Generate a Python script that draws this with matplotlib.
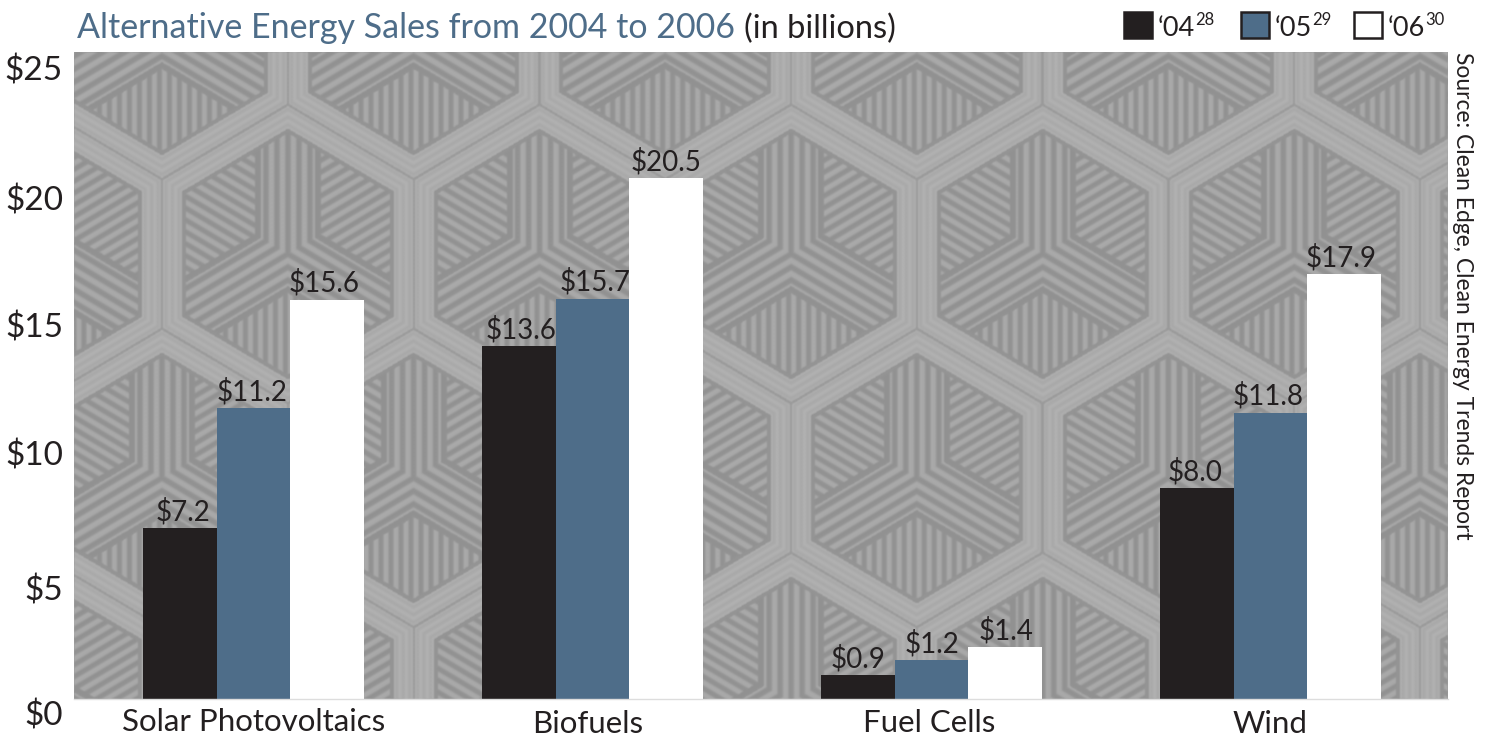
import numpy as np
import matplotlib
matplotlib.use('Agg')
import matplotlib.pyplot as plt
from matplotlib.patches import Rectangle

W, H = 1489, 736
DARK = '#231f20'
BLUE = '#4e6d89'

categories = ['Solar Photovoltaics', 'Biofuels', 'Fuel Cells', 'Wind']
years = ['04', '05', '06']
notes = ['28', '29', '30']
# printed labels
labels_04 = ['$7.2', '$13.6', '$0.9', '$8.0']
labels_05 = ['$11.2', '$15.7', '$1.2', '$11.8']
labels_06 = ['$15.6', '$20.5', '$1.4', '$17.9']
# bar heights as drawn in the picture, they differ a bit from the labels
heights_04 = [6.72, 13.87, 0.94, 8.29]
heights_05 = [11.43, 15.72, 1.53, 11.24]
heights_06 = [15.68, 20.47, 2.04, 16.70]
tick_labels = ['$25', '$20', '$15', '$10', '$5', '$0']
tick_y = [71, 201, 328, 456, 591, 716]

plt.rcParams['font.family'] = ['Lato', 'DejaVu Sans']


def px_text(x, y, s, **kw):
	return fig.text(x / W, 1 - y / H, s, **kw)


def soften(img):
	# small blur so the stripes look printed
	for axis in (0, 1):
		img = (np.roll(img, 1, axis) + 2 * img + np.roll(img, -1, axis)) / 4
	return img


def hex_texture(x0, x1, y0, y1):
	# hexagon wallpaper behind the bars
	xs, ys = np.meshgrid(np.arange(x0, x1) + 0.5, np.arange(y0, y1) + 0.5)
	step_x, step_y = 251.6, 224.0
	yscale = 145.3 / 149.3
	best = np.full(xs.shape, 1e12)
	u = np.zeros(xs.shape)
	v = np.zeros(xs.shape)
	for row in range(-1, 5):
		cy = 30 + row * step_y
		off = 288 if row % 2 == 1 else 162
		for col in range(-1, 7):
			cx = off + col * step_x
			du = xs - cx
			dv = (cy - ys) * yscale
			dist = du * du + dv * dv
			mask = dist < best
			best[mask] = dist[mask]
			u[mask] = du[mask]
			v[mask] = dv[mask]

	# distance to the hexagon edge (pointy top)
	a = step_x / 2
	d = np.maximum.reduce([np.abs(u),
		np.abs(u * 0.5 + v * 0.866),
		np.abs(-u * 0.5 + v * 0.866)])

	ang = np.degrees(np.arctan2(v, u)) % 360
	left = (ang >= 90) & (ang < 210)
	bottom = (ang >= 210) & (ang < 330)
	right = ~(left | bottom)

	# perpendicular distance to the Y in the middle of each hexagon
	d_up = np.abs(u)
	d_dl = np.abs(u * 0.5 - v * 0.866)
	d_dr = np.abs(u * 0.5 + v * 0.866)
	t = np.where(left, np.minimum(d_up, d_dl),
		np.where(right, np.minimum(d_up, d_dr), np.minimum(d_dl, d_dr)))

	s = np.where(bottom, u, np.where(left, u * 0.5 + v * 0.866, u * 0.5 - v * 0.866))

	dark, light = 146.0, 178.0
	rhomb = 0.5 + 0.9 * np.sin(2 * np.pi * s / 10.0)
	bundle = 0.5 - 0.9 * np.cos(2 * np.pi * t / 11.0)
	inner = np.where(t < 30, bundle, rhomb)
	inner = np.where((t >= 27) & (t < 33), 0.0, inner)
	inner = np.clip(inner, 0, 1) * 0.72

	wall = 0.84 + 0.14 * np.sin(2 * np.pi * d / 6.5)
	img = np.where(d > a - 20, wall, inner)
	img = np.where((d > a - 24) & (d <= a - 20), 0.05, img)
	img = np.where(d > a - 1.2, 0.25, img)
	# fine print grain
	img = img + 0.07 * np.sin(xs * 1.9 + ys * 0.7) * np.sin(ys * 2.3 - xs * 0.4)
	img = soften(img)
	return (dark + (light - dark) * img) / 255.0


fig = plt.figure(figsize=(W / 100, H / 100), dpi=100)
px0, px1, py0, py1 = 74, 1448, 52, 699
ax = fig.add_axes([px0 / W, 1 - py1 / H, (px1 - px0) / W, (py1 - py0) / H])

x = np.arange(len(categories))
bar_w = 0.2168
xlim = (-0.5295, 3.5236)
ylim = (0, 25.42)
ax.imshow(hex_texture(px0, px1, py0, py1), cmap='gray', vmin=0, vmax=1,
	extent=(xlim[0], xlim[1], ylim[0], ylim[1]), aspect='auto', zorder=0,
	interpolation='bilinear')

groups = [(heights_04, labels_04, DARK, [3, 2, 0.5, -1.5], -1),
	(heights_05, labels_05, BLUE, [-1, 2.5, 0.5, -2.5], 0),
	(heights_06, labels_06, 'white', [-3, 0, 1, -3], 1)]

for vals, labs, col, dxs, pos in groups:
	bars = ax.bar(x + pos * bar_w, vals, bar_w, color=col, linewidth=0, zorder=2)
	for b, lab, dx in zip(bars, labs, dxs):
		ax.annotate(lab.replace('$', r'\$'), (b.get_x() + b.get_width() / 2, b.get_height()),
			xytext=(dx * 0.72, 12), textcoords='offset points',
			ha='center', va='center', fontsize=20, color=DARK, zorder=3)

ax.set_xlim(xlim)
ax.set_ylim(ylim)
ax.set_xticks([])
ax.set_yticks([])
for side in ['top', 'left', 'right']:
	ax.spines[side].set_visible(False)
ax.spines['bottom'].set_color('#dddddd')
ax.spines['bottom'].set_linewidth(1)

for lab, y in zip(tick_labels, tick_y):
	px_text(63, y, lab.replace('$', r'\$'), ha='right', va='center', fontsize=24, color=DARK)

cat_x = [254, 588, 929, 1270]
cat_base = [731, 733, 732, 733]
for name, cx, cy in zip(categories, cat_x, cat_base):
	px_text(cx, cy, name, ha='center', va='baseline', fontsize=22.5, color=DARK)

px_text(77, 38, 'Alternative Energy Sales from 2004 to 2006', ha='left', va='baseline',
	fontsize=24.5, color=BLUE)
px_text(744, 38, '(in billions)', ha='left', va='baseline', fontsize=23.5, color=DARK)

px_text(1462, 52, 'Source: Clean Edge, Clean Energy Trends Report', rotation=270,
	ha='center', va='top', fontsize=16.4, color=DARK)

box_x = [1124, 1241, 1354]
box_fill = [DARK, BLUE, 'white']
text_x = [1158, 1275, 1388]
note_x = [1195, 1312, 1425]
for bx, fc, tx, nx, yr, nt in zip(box_x, box_fill, text_x, note_x, years, notes):
	fig.add_artist(Rectangle((bx / W, 1 - 38 / H), 28 / W, 26 / H, transform=fig.transFigure,
		facecolor=fc, edgecolor=DARK, linewidth=1.8))
	px_text(tx, 36, '\u2018' + yr, ha='left', va='baseline', fontsize=19.5, color=DARK)
	px_text(nx, 25, nt, ha='left', va='baseline', fontsize=12, color=DARK)

fig.savefig('out.png', dpi=100)
